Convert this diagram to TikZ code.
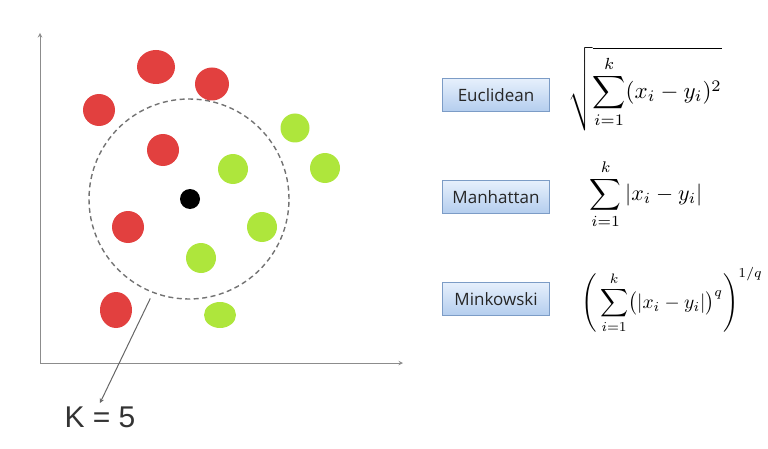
\documentclass[tikz,border=0pt]{standalone}
\usepackage{fontspec}
\usepackage{xcolor}
\usetikzlibrary{shapes.geometric, arrows}
\newfontfamily\boxfont{Open Sans}
\newfontfamily\labelfont{Liberation Sans}
\definecolor{ptred}{HTML}{E2403F}
\definecolor{ptgreen}{HTML}{AEE63C}
\definecolor{boxedge}{HTML}{7C9CC6}
\definecolor{boxtop}{HTML}{E6F0FC}
\definecolor{boxbot}{HTML}{B4CDEE}
\tikzstyle{redpt} = [ellipse, fill=ptred, inner sep=0, minimum width=32pt, minimum height=32pt]
\tikzstyle{greenpt} = [ellipse, fill=ptgreen, inner sep=0, minimum width=30pt, minimum height=30pt]
\tikzstyle{query} = [circle, fill=black, inner sep=0, minimum size=20pt]
\tikzstyle{metric} = [rectangle, draw=boxedge, line width=1pt, top color=boxtop, bottom color=boxbot, minimum width=107pt, minimum height=33pt, text=black!85, font=\boxfont\fontsize{17}{20}\selectfont]
\tikzstyle{formula} = [inner sep=0, anchor=center]
\tikzstyle{axis} = [draw=black!45, line width=1pt, ->, >=stealth]
\tikzstyle{line} = [draw=black!60, line width=1pt, ->, >=stealth]

\begin{document}
\begin{tikzpicture}[x=1pt, y=1pt, node distance=102pt]
\useasboundingbox (0,0) rectangle (768,448);

% axes
\coordinate (O) at (40,85);
\coordinate (ytop) at (40,415);
\coordinate (xend) at (403,85);
\path [axis] (O) -- (ytop);
\path [axis] (O) -- (xend);

% neighbourhood
\node [circle, draw=black!55, dash pattern=on 5pt off 3.5pt, line width=1.4pt, minimum size=200pt, inner sep=0] (nbhd) at (189,249) {};

% red class
\node [redpt, minimum width=38pt, minimum height=34pt] (r1) at (156,381) {};
\node [redpt, minimum width=34pt, minimum height=33pt] (r2) at (212,364) {};
\node [redpt] (r3) at (99,338) {};
\node [redpt] (r4) at (163,298) {};
\node [redpt] (r5) at (128,221) {};
\node [redpt, minimum height=36pt] (r6) at (116,138) {};

% green class
\node [greenpt, minimum width=29pt, minimum height=29pt] (g1) at (295,320) {};
\node [greenpt] (g2) at (325,280) {};
\node [greenpt] (g3) at (233,279) {};
\node [greenpt] (g4) at (262,221) {};
\node [greenpt] (g5) at (201,190) {};
\node [greenpt, minimum width=32pt, minimum height=26pt] (g6) at (220,133) {};

% query point
\node [query] (q) at (190,249) {};

% k label
\node [text=black!80, font=\labelfont\fontsize{30}{32}\selectfont] (klabel) at (100,31) {K = 5};
\path [line, shorten <=6pt] (nbhd.249) -- (klabel.north);

% distance measures
\node [metric] (euc) at (496,353) {Euclidean};
\node [metric, below of=euc] (man) {Manhattan};
\node [metric, below of=man] (mink) {Minkowski};

\node [formula, scale=2.3] (feuc) at (645,359) {$\displaystyle\sqrt{\sum_{i=1}^{k}(x_i-y_i)^2}$};
\node [formula, scale=2.2] (fman) at (646,254) {$\displaystyle\sum_{i=1}^{k}\left|x_i-y_i\right|$};
\node [formula, scale=1.95] (fmink) at (672,148) {$\displaystyle\left(\,\sum_{i=1}^{k}\bigl(|x_i-y_i|\bigr)^q\right)^{1/q}$};

\end{tikzpicture}
\end{document}
